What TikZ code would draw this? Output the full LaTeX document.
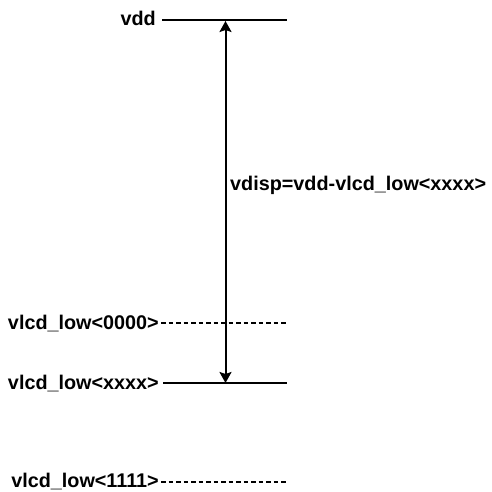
\documentclass[tikz,border=0pt]{standalone}
\usepackage{fontspec}
\setmainfont{Liberation Sans}
\usetikzlibrary{arrows.meta}
\begin{document}
\begin{tikzpicture}[x=1pt,y=-1pt,
  lbl/.style={font=\fontsize{19.8}{23}\selectfont\bfseries, inner sep=0pt, anchor=base east},
  level/.style={line width=2pt},
  dlevel/.style={line width=1.6pt, dash pattern=on 4.5pt off 3pt},
  span/.style={line width=2pt, {Stealth[length=11pt,width=12pt,inset=2pt]}-{Stealth[length=11pt,width=12pt,inset=2pt]}}]
\useasboundingbox (0,0) rectangle (491,492);
% vdd
\node[lbl] (tvdd) at (156,26) {vdd};
\coordinate (vddL) at (162,20);
\coordinate (vddR) at (287,20);
\draw[level] (vddL) -- (vddR);
% 0000
\node[lbl] (t0) at (159,329) {vlcd\_low<0000>};
\coordinate (l0L) at (161,323);
\coordinate (l0R) at (286,323);
\draw[dlevel] (l0L) -- (l0R);
% xxxx
\node[lbl] (tx) at (159,389) {vlcd\_low<xxxx>};
\coordinate (lxL) at (163,383);
\coordinate (lxR) at (287,383);
\draw[level] (lxL) -- (lxR);
% 1111
\node[lbl] (t1) at (159,487) {vlcd\_low<1111>};
\coordinate (l1L) at (161,482);
\coordinate (l1R) at (286,482);
\draw[dlevel] (l1L) -- (l1R);
% arrow
\coordinate (aT) at (225.5,21);
\coordinate (aB) at (225.5,383);
\draw[span] (aT) -- (aB);
\node[lbl, anchor=base west] (tvdisp) at (230,190) {vdisp=vdd-vlcd\_low<xxxx>};
\end{tikzpicture}
\end{document}
